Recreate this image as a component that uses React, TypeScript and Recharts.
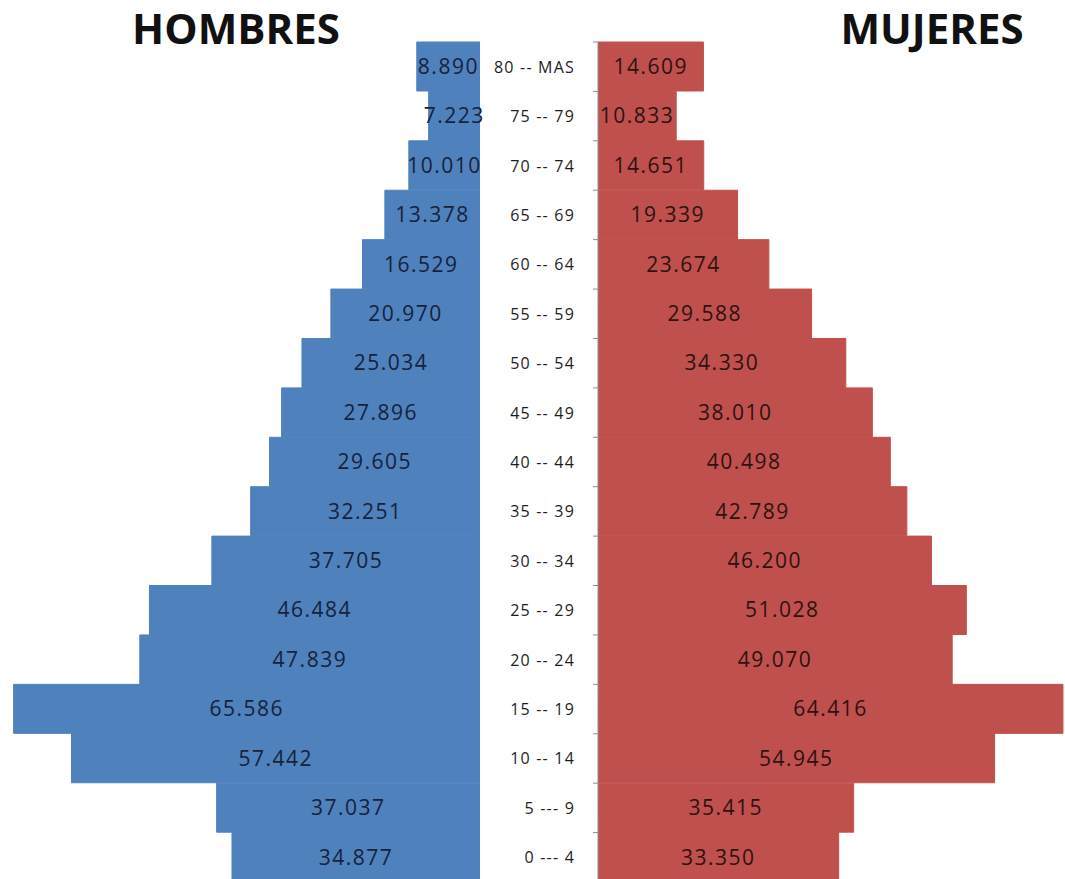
import { Bar, BarChart, LabelList, XAxis, YAxis } from "recharts";

const ages = [
  "80 -- MAS",
  "75 -- 79",
  "70 -- 74",
  "65 -- 69",
  "60 -- 64",
  "55 -- 59",
  "50 -- 54",
  "45 -- 49",
  "40 -- 44",
  "35 -- 39",
  "30 -- 34",
  "25 -- 29",
  "20 -- 24",
  "15 -- 19",
  "10 -- 14",
  "5 --- 9",
  "0 --- 4",
];
const hombres = [
  8890, 7223, 10010, 13378, 16529, 20970, 25034, 27896, 29605, 32251, 37705,
  46484, 47839, 65586, 57442, 37037, 34877,
];
const mujeres = [
  14609, 10833, 14651, 19339, 23674, 29588, 34330, 38010, 40498, 42789, 46200,
  51028, 49070, 64416, 54945, 35415, 33350,
];

const data = ages.map((age, i) => ({ age, hombres: hombres[i], mujeres: mujeres[i] }));

const BLUE = "#4f81bd";
const RED = "#c0504d";
const FONT = "'Open Sans', 'Liberation Sans', sans-serif";
const TOP = 42;
const PLOT_H = 840;
const HALF_BAND = PLOT_H / ages.length / 2;

const fmt = (v: any) => String(v).replace(/\B(?=(\d{3})+(?!\d))/g, ".");

function AgeTick({ x, y, payload }: any) {
  return (
    <g>
      <text
        x={x}
        y={y}
        dy={6}
        textAnchor="end"
        fill="#1e1e1e"
        fontSize={16}
        fontFamily={FONT}
        style={{ letterSpacing: 1.2 }}
      >
        {payload.value}
      </text>
      <line x1={x + 18} x2={x + 23} y1={y - HALF_BAND} y2={y - HALF_BAND} stroke="#8c8c8c" />
    </g>
  );
}

export default function App() {
  return (
    <div
      style={{
        position: "absolute",
        left: 0,
        top: 0,
        width: 1065,
        height: 879,
        overflow: "hidden",
        background: "#fff",
      }}
    >
      <div style={{ position: "absolute", left: 480, top: 0 }}>
        <BarChart
          layout="vertical"
          width={585}
          height={TOP + PLOT_H}
          data={data}
          margin={{ top: TOP, right: 0, bottom: 0, left: 0 }}
          barCategoryGap={0}
        >
          <XAxis type="number" domain={[0, 64700]} hide allowDataOverflow />
          <YAxis
            type="category"
            dataKey="age"
            width={118}
            tickSize={5}
            tickMargin={18}
            tickLine={false}
            axisLine={{ stroke: "#8c8c8c" }}
            tick={<AgeTick />}
            interval={0}
          />
          <Bar dataKey="mujeres" fill={RED} stroke={RED} strokeWidth={1} isAnimationActive={false}>
            <LabelList
              dataKey="mujeres"
              position="center"
              formatter={fmt}
              fill="#2e1212"
              fontSize={21}
              fontFamily={FONT}
              style={{ letterSpacing: 1.5 }}
            />
          </Bar>
        </BarChart>
      </div>
      <div style={{ position: "absolute", left: 0, top: 0 }}>
        <BarChart
          layout="vertical"
          width={530}
          height={TOP + PLOT_H}
          data={data}
          margin={{ top: TOP, right: 50, bottom: 0, left: 0 }}
          barCategoryGap={0}
        >
          <XAxis type="number" domain={[0, 67500]} reversed hide allowDataOverflow />
          <YAxis type="category" dataKey="age" hide />
          <Bar dataKey="hombres" fill={BLUE} stroke={BLUE} strokeWidth={1} isAnimationActive={false}>
            <LabelList
              dataKey="hombres"
              position="center"
              formatter={fmt}
              fill="#17223c"
              fontSize={21}
              fontFamily={FONT}
              style={{ letterSpacing: 1.5 }}
            />
          </Bar>
        </BarChart>
      </div>
      <svg
        width={1065}
        height={879}
        style={{ position: "absolute", left: 0, top: 0, pointerEvents: "none" }}
      >
        <text x={236} y={44} textAnchor="middle" fontSize={42} fontWeight={700} fontFamily={FONT} fill="#111">
          HOMBRES
        </text>
        <text x={932} y={44} textAnchor="middle" fontSize={42} fontWeight={700} fontFamily={FONT} fill="#111">
          MUJERES
        </text>
      </svg>
    </div>
  );
}
